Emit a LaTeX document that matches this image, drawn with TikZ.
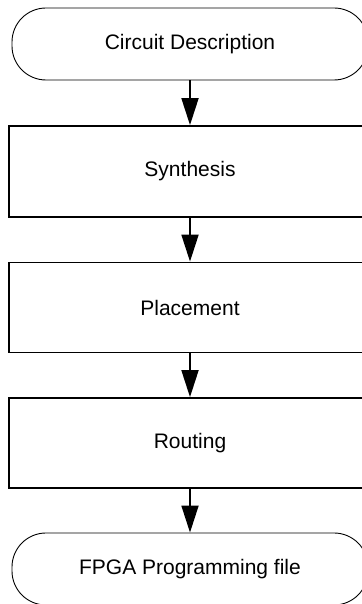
\documentclass[tikz,border=0pt]{standalone}
\usepackage{fontspec}
\setmainfont{Liberation Sans}
\usetikzlibrary{arrows.meta}

\tikzset{
  term/.style={draw, line width=0.9pt, rounded corners=34pt, minimum width=356pt, minimum height=72pt, font=\fontsize{21}{24}\selectfont},
  procbox/.style={draw, line width=1.8pt, minimum width=362pt, minimum height=90pt, font=\fontsize{21}{24}\selectfont},
  flow/.style={line width=1.8pt, -{Triangle[width=17pt,length=27pt]}}
}

\begin{document}
\begin{tikzpicture}[x=1pt,y=1pt]
\useasboundingbox (0,0) rectangle (361,604);

\node[term] (desc) at (190,560) {Circuit Description};
\node[procbox, minimum height=91pt] (synth) at (190,432.5) {Synthesis};
\node[procbox] (place) at (190,296.5) {Placement};
\node[procbox] (route) at (190,161) {Routing};
\node[term] (fpga) at (190,35) {FPGA Programming file};

\draw[flow] (desc) -- (synth);
\draw[flow] (synth) -- (place);
\draw[flow] (place) -- (route);
\draw[flow] (route) -- (fpga);

\end{tikzpicture}
\end{document}
